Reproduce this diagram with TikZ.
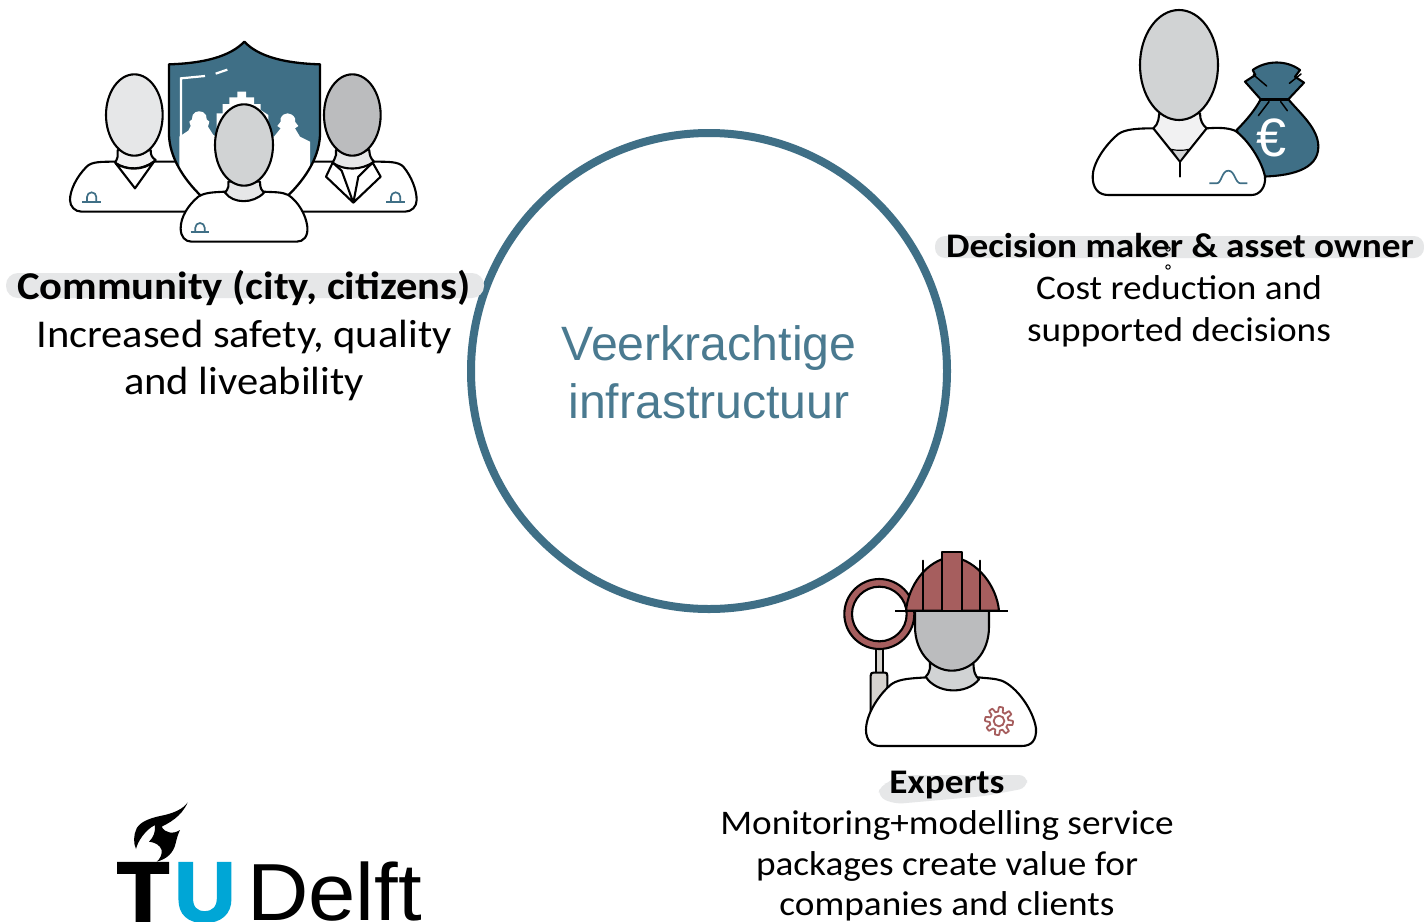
\documentclass[tikz,border=0pt]{standalone}
\usepackage{fontspec}
\setmainfont[FakeStretch=1.08]{Carlito}
\newfontfamily\arialf{Liberation Sans}
\newfontfamily\logof[FakeBold=3]{Liberation Sans Bold}
\newfontfamily\logor[FakeStretch=1.05]{Liberation Sans}
\definecolor{teal}{HTML}{3F6F86}
\definecolor{tealtext}{HTML}{4A7A90}
\definecolor{brick}{HTML}{A65E5E}
\definecolor{hilite}{HTML}{E6E7E8}
\definecolor{gA}{HTML}{E6E7E8}
\definecolor{gB}{HTML}{D1D3D4}
\definecolor{gC}{HTML}{BBBCBE}
\definecolor{gD}{HTML}{F1F1F2}
\definecolor{handle}{HTML}{D6D3CE}
\definecolor{cyanTU}{HTML}{00A6D6}
\tikzset{
  x=1pt,y=-1pt,
  ink/.style={draw=black,line width=2.1pt,line join=round,line cap=round},
  zoomed/.style={x=0.33333pt,y=-0.33333pt},
  barshape/.style={fill=hilite,rounded corners=10pt},
  bigtxt/.style={anchor=base,inner sep=0pt,font=\fontsize{39.4}{39.4}\selectfont},
  bigbold/.style={bigtxt,font=\fontsize{39.4}{39.4}\selectfont\bfseries},
  midtxt/.style={anchor=base,inner sep=0pt,font=\fontsize{34.5}{34.5}\selectfont},
  midbold/.style={midtxt,font=\fontsize{34.5}{34.5}\selectfont\bfseries},
  centretxt/.style={anchor=base,inner sep=0pt,text=tealtext,font=\arialf\fontsize{48.2}{48.2}\selectfont},
}
\begin{document}
\begin{tikzpicture}
\useasboundingbox (0,0) rectangle (1424,921);
\fill[white] (0,0) rectangle (1424,921);

% central circle
\node[circle,draw=teal,line width=8pt,minimum size=476pt,inner sep=0pt] (hub) at (709,371) {};
\node[centretxt] (veer) at (709,360) {Veerkrachtige};
\node[centretxt] (infra) at (709,418) {infrastructuur};

% ---------- community ----------
\begin{scope}[shift={(50,20)},zoomed]
  % left person
  \draw[ink,fill=white] (205,425) .. controls (150,425) and (125,425) .. (110,440) .. controls (80,470) and (60,510) .. (60,540) .. controls (60,560) and (75,575) .. (95,575) -- (490,575) -- (490,425) -- cycle;
  \draw[ink,fill=gD] (203,390) -- (203,410) .. controls (200,420) and (197,425) .. (195,428) .. controls (230,452) and (280,452) .. (317,420) .. controls (305,412) and (302,405) .. (302,390) -- cycle;
  \draw[ink,fill=white] (197,430) .. controls (230,452) and (280,452) .. (312,425) -- (255,505) -- cycle;
  \draw[ink,fill=gA] (253,285) ellipse [x radius=85,y radius=122];
  % right person
  \draw[ink,fill=white] (965,425) .. controls (1020,425) and (1045,425) .. (1060,440) .. controls (1085,470) and (1100,510) .. (1100,540) .. controls (1100,560) and (1085,575) .. (1065,575) -- (680,575) -- (680,425) -- cycle;
  \draw[ink,fill=gA] (858,390) -- (858,405) .. controls (855,415) and (852,420) .. (848,428) .. controls (880,452) and (935,452) .. (972,425) .. controls (962,415) and (958,405) .. (958,390) -- cycle;
  \draw[ink,fill=white] (848,428) -- (828,470) -- (910,548) -- (992,470) -- (968,428) -- (925,470) -- (910,548) -- (875,452) -- cycle;
  \draw[ink,fill=gC] (907,285) ellipse [x radius=85,y radius=122];
  % shield
  \path[save path=\shieldpath] (357,133) .. controls (460,130) and (540,110) .. (583,65) .. controls (625,110) and (705,130) .. (810,133) -- (810,340) .. controls (810,450) and (700,560) .. (583,620) .. controls (465,560) and (357,450) .. (357,340) -- cycle;
  \fill[teal,use path=\shieldpath];
  \begin{scope}
    \clip[use path=\shieldpath];
    \fill[white] (388,700) -- (388,350) -- (415,332) -- (422,318) -- (418,305) -- (426,298) -- (428,285) .. controls (435,270) and (460,270) .. (468,285) -- (470,298) -- (478,305) -- (474,320) -- (490,345) -- (500,350) -- (500,280) -- (518,280) -- (518,252) -- (538,252) -- (538,232) -- (562,232) -- (562,215) -- (588,215) -- (588,232) -- (612,232) -- (612,252) -- (632,252) -- (632,270) -- (655,285) -- (655,350) -- (672,350) -- (692,325) -- (682,318) -- (692,305) -- (692,295) .. controls (700,275) and (725,275) .. (735,295) -- (735,305) -- (745,318) -- (735,325) -- (750,350) -- (780,365) -- (780,700) -- cycle;
  \end{scope}
  \draw[ink,line width=2.3pt,line cap=butt,use path=\shieldpath];
  \draw[white,line width=2.2pt] (393,350) -- (393,175) -- (465,168);
  \draw[white,line width=2.2pt] (497,161) -- (532,149);
  % centre person
  \draw[ink,fill=white] (525,515) .. controls (490,517) and (465,517) .. (445,530) .. controls (415,555) and (392,590) .. (392,625) .. controls (392,650) and (405,665) .. (425,665) -- (740,665) .. controls (760,665) and (775,650) .. (772,620) .. controls (768,585) and (745,545) .. (715,525) .. controls (695,515) and (670,517) .. (640,515) -- cycle;
  \draw[ink,fill=gA] (535,485) -- (535,500) .. controls (533,508) and (530,512) .. (525,518) .. controls (550,552) and (610,552) .. (642,518) .. controls (635,512) and (630,505) .. (630,485) -- cycle;
  \draw[ink,fill=gB] (582,375) ellipse [x radius=87,y radius=122];
  % badges
  \foreach \bx/\by in {125/545,450/637,1037/545}{
    \draw[teal,line width=1.7pt,line cap=butt] (\bx-28,\by) -- (\bx+28,\by);
    \draw[teal,line width=1.7pt] (\bx-14,\by) -- (\bx-14,\by-14) arc[start angle=180,end angle=360,radius=14] -- (\bx+14,\by);
  }
\end{scope}

% ---------- decision maker ----------
\begin{scope}[shift={(1070,0)},zoomed]
  % bag
  \draw[ink,fill=teal] (572,298) -- (525,245) -- (556,225) -- (548,210) .. controls (590,180) and (650,180) .. (690,210) -- (675,230) -- (702,248) -- (655,298) .. controls (690,340) and (745,385) .. (745,440) .. controls (745,510) and (660,530) .. (560,530) -- (500,390) .. controls (530,360) and (555,330) .. (572,298) -- cycle;
  \draw[ink,line width=1.5pt] (550,224) -- (590,258);
  \draw[ink,line width=1.5pt] (693,222) -- (658,250);
  \draw[ink,line width=2.4pt] (572,298) -- (655,298);
  \draw[ink,line width=1.5pt] (597,305) -- (565,347);
  \draw[ink,line width=1.5pt] (632,305) -- (652,332);
  \node[inner sep=0pt,text=white,font=\arialf\fontsize{54}{54}\selectfont] (euro) at (604,415) {€};
  % body
  \draw[ink,fill=white] (250,385) .. controls (200,385) and (165,388) .. (145,402) .. controls (105,435) and (68,490) .. (68,530) .. controls (68,565) and (85,585) .. (115,585) -- (545,585) .. controls (570,585) and (588,560) .. (585,530) .. controls (575,480) and (530,415) .. (495,392) .. controls (470,382) and (440,383) .. (410,385) -- cycle;
  \draw[ink,fill=gD] (268,340) -- (265,360) .. controls (263,370) and (258,378) .. (250,385) -- (330,485) -- (410,385) .. controls (398,375) and (390,362) .. (390,340) -- cycle;
  \draw[ink,line width=1.2pt,fill=gB] (303,448) .. controls (320,452) and (340,452) .. (357,448) -- (330,484) -- cycle;
  \draw[ink] (330,485) -- (330,530);
  \draw[ink,fill=gB] (327,195) ellipse [x radius=117,y radius=165];
  \draw[teal,line width=1.7pt] (418,550) -- (440,550) .. controls (455,550) and (455,512) .. (475,512) .. controls (495,512) and (495,550) .. (512,550) -- (532,550);
\end{scope}

% ---------- expert ----------
\begin{scope}[shift={(830,540)},zoomed]
  % magnifier
  \draw[ink,fill=handle] (137,320) rectangle (158,400);
  \draw[ink,fill=handle] (122,520) -- (122,407) .. controls (122,400) and (125,398) .. (130,398) -- (165,398) .. controls (170,398) and (172,400) .. (172,407) -- (172,520) -- cycle;
  \draw[ink,fill=brick] (148,222) circle [radius=105];
  \draw[ink,fill=white] (148,222) circle [radius=82];
  % body
  \draw[ink,fill=white] (290,412) .. controls (250,415) and (210,415) .. (185,432) .. controls (150,460) and (108,520) .. (108,570) .. controls (108,600) and (125,618) .. (150,618) -- (575,618) .. controls (605,618) and (620,600) .. (618,565) .. controls (610,510) and (560,440) .. (515,422) .. controls (495,415) and (470,415) .. (445,412) -- cycle;
  \draw[ink,fill=gB] (300,360) -- (300,385) .. controls (298,395) and (295,402) .. (287,410) .. controls (320,462) and (410,465) .. (447,418) .. controls (437,408) and (430,400) .. (430,360) -- cycle;
  % face
  \draw[ink,fill=gC] (255,212) -- (255,260) .. controls (255,340) and (310,392) .. (365,392) .. controls (425,392) and (477,340) .. (477,260) -- (477,212) -- cycle;
  % helmet
  \draw[ink,fill=brick] (228,212) .. controls (235,140) and (285,62) .. (365,50) .. controls (445,62) and (500,140) .. (507,212) -- cycle;
  \draw[ink,fill=brick] (337,212) -- (337,36) -- (395,36) -- (395,212);
  \draw[ink] (280,62) -- (280,212);
  \draw[ink] (450,62) -- (450,212);
  \draw[ink,line cap=butt] (195,212) -- (535,212);
  % gear
  \draw[brick,line width=1.8pt,line join=round] plot[domain=0:360,samples=200] ({507+(35+7*max(-1,min(1,2.5*sin(8*\x+22))))*cos(\x)},{543+(35+7*max(-1,min(1,2.5*sin(8*\x+22))))*sin(\x)}) -- cycle;
  \draw[brick,line width=1.8pt] (507,543) circle [radius=16];
\end{scope}

% ---------- text bars ----------
\fill[barshape,rounded corners=12pt] (6,273) rectangle (484,298);
\fill[barshape] (935,236) rectangle (1424,258);
\fill[hilite,rounded corners=8pt] (878,797) -- (880,785) -- (892,782) -- (895,775) -- (1027,775) -- (1027,788) -- (985,796) -- (895,804) -- cycle;

% ---------- labels ----------
\node[bigbold] (comm) at (244,299) {Community (city, citizens)};
\node[bigtxt] (comm2) at (244,347) {Increased safety, quality};
\node[bigtxt] (comm3) at (244,394) {and liveability};

\node[midbold] (dec) at (1180,257) {Decision maker \& asset owner};
\node[midtxt] (dec2) at (1179,299) {Cost reduction and};
\node[midtxt] (dec3) at (1179,341) {supported decisions};
\draw[line width=1pt] (1168,249) circle [radius=2.2];
\draw[line width=1pt] (1168,267) circle [radius=2.2];

\node[midbold] (exp) at (947,793) {Experts};
\node[midtxt] (exp2) at (947,834) {Monitoring+modelling service};
\node[midtxt] (exp3) at (947,875) {packages create value for};
\node[midtxt] (exp4) at (947,915) {companies and clients};

% ---------- logo ----------
\begin{scope}[shift={(125,795)},zoomed]
  \fill[black] (188,22) .. controls (175,42) and (145,55) .. (110,62) .. controls (70,70) and (45,82) .. (35,100) .. controls (25,120) and (25,145) .. (33,162) .. controls (38,140) and (60,105) .. (90,90) .. controls (92,110) and (85,128) .. (72,140) .. controls (90,142) and (105,150) .. (110,165) .. controls (112,178) and (105,192) .. (95,200) .. controls (125,192) and (145,175) .. (152,145) .. controls (155,130) and (160,115) .. (165,105) .. controls (145,118) and (120,115) .. (110,95) .. controls (130,85) and (170,65) .. (188,22) -- cycle;
\end{scope}
\node[anchor=base,inner sep=0pt,font=\logof\fontsize{84}{84}\selectfont] (logoT) at (143,921) {T};
\node[anchor=base,inner sep=0pt,text=cyanTU,font=\logof\fontsize{84}{84}\selectfont] (logoU) at (205,921) {U};
\node[anchor=base west,inner sep=0pt,font=\logor\fontsize{81}{81}\selectfont] (logoD) at (247,920) {Delft};
\end{tikzpicture}
\end{document}
